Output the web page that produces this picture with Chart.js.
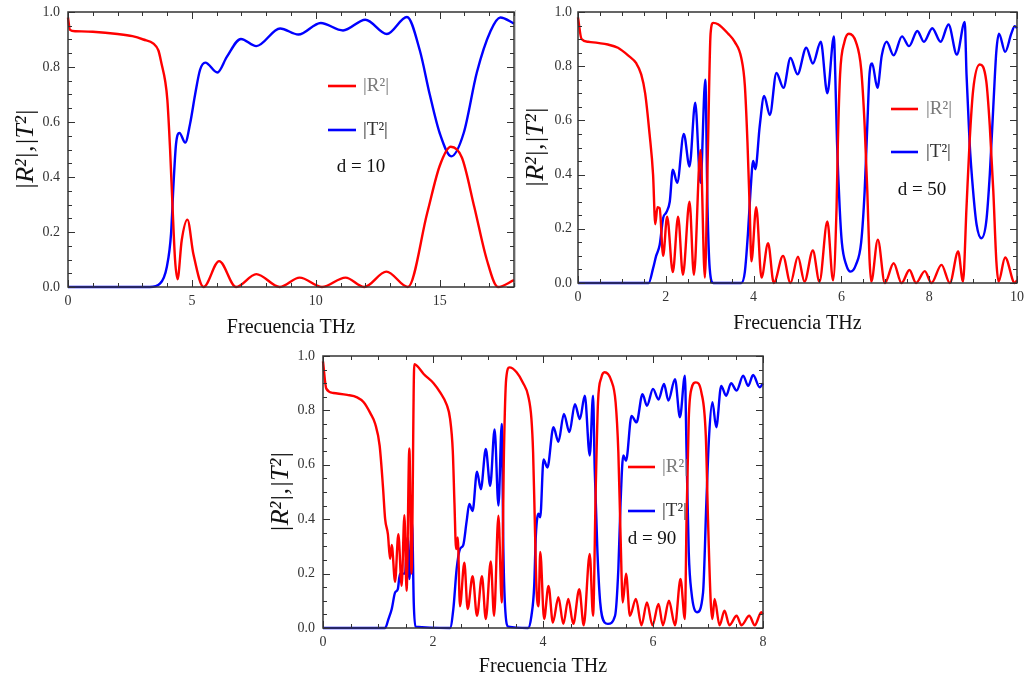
<!DOCTYPE html>
<html><head><meta charset="utf-8">
<script src="https://cdn.jsdelivr.net/npm/chart.js@4.4.0/dist/chart.umd.min.js"></script>
<style>
html,body{margin:0;padding:0;background:#fff;width:1024px;height:685px;overflow:hidden}
canvas{position:absolute}
#sep{position:absolute;left:515px;top:10px;width:1px;height:277px;background:#c8c8c8}
</style></head><body>
<div id="sep"></div>
<canvas id="c1" width="520" height="340" style="left:0;top:0"></canvas>
<canvas id="c2" width="504" height="340" style="left:520px;top:0"></canvas>
<canvas id="c3" width="520" height="345" style="left:255px;top:340px"></canvas>
<script>
// ---------- data ----------
// d = 10
const r1x = [0,0.08,0.3,1,2,2.6,3.04,3.45,3.65,3.78,3.92,4.01,4.12,4.22,4.32,4.42,4.59,4.82,5.06,5.47,6.1,6.78,7.6,8.55,9.35,10.25,11.2,11.95,12.85,13.72,14.5,15.0,15.45,15.9,16.4,16.9,17.35,18];
const r1y = [0.98,0.935,0.93,0.928,0.92,0.912,0.9,0.885,0.86,0.81,0.75,0.68,0.50,0.29,0.10,0.028,0.17,0.245,0.12,0,0.094,0,0.047,0,0.034,0,0.034,0,0.056,0,0.27,0.44,0.51,0.47,0.29,0.1,0,0.025];
const t1x = [0,3.3,3.72,3.99,4.16,4.26,4.36,4.5,4.73,4.93,5.13,5.33,5.54,6.03,6.41,6.98,7.6,8.56,9.3,10.2,11.1,12.0,12.87,13.68,14.2,14.6,15.0,15.47,15.97,16.5,17.05,17.45,18];
const t1y = [0,0,0.013,0.074,0.195,0.377,0.52,0.56,0.525,0.595,0.70,0.79,0.816,0.78,0.837,0.902,0.876,0.94,0.918,0.96,0.933,0.972,0.92,0.982,0.86,0.70,0.56,0.475,0.56,0.78,0.93,0.98,0.958];
// d = 50
const r2x = [0,0.08,0.23,0.68,0.91,1.14,1.33,1.44,1.53,1.63,1.71,1.76,1.81,1.86,1.94,2.03,2.16,2.28,2.39,2.54,2.64,2.79,2.89,2.96,3.02,3.08,3.19,3.42,3.57,3.72,3.8,3.86,3.91,3.95,4.06,4.18,4.33,4.46,4.67,4.84,5.01,5.16,5.35,5.5,5.68,5.81,5.89,5.92,5.97,6.07,6.17,6.33,6.45,6.53,6.59,6.64,6.68,6.83,6.99,7.19,7.37,7.55,7.7,7.9,8.05,8.28,8.47,8.66,8.77,8.85,8.92,9.0,9.15,9.3,9.38,9.46,9.53,9.58,9.73,9.95,10];
const r2y = [0.98,0.90,0.89,0.88,0.868,0.84,0.81,0.77,0.70,0.55,0.40,0.217,0.28,0.276,0.10,0.245,0.04,0.245,0.03,0.30,0.03,0.49,0.02,0.5,0.92,0.96,0.955,0.92,0.89,0.83,0.73,0.52,0.28,0.08,0.28,0.02,0.147,0,0.10,0,0.097,0.005,0.12,0.005,0.227,0.01,0.28,0.52,0.77,0.89,0.92,0.89,0.79,0.58,0.34,0.09,0.005,0.16,0,0.073,0,0.048,0,0.044,0,0.067,0,0.116,0.005,0.28,0.52,0.71,0.806,0.745,0.58,0.34,0.08,0.005,0.094,0,0.01];
const t2x = [0,1.61,1.71,1.78,1.86,1.94,2.01,2.09,2.16,2.26,2.41,2.54,2.67,2.79,2.9,2.95,3.0,3.08,3.72,3.8,3.87,3.93,3.99,4.04,4.14,4.24,4.37,4.52,4.68,4.84,5.0,5.2,5.35,5.53,5.68,5.83,5.86,5.9,5.96,6.01,6.11,6.21,6.33,6.45,6.53,6.59,6.64,6.7,6.82,6.92,7.03,7.19,7.38,7.54,7.73,7.88,8.07,8.26,8.44,8.63,8.81,8.85,8.92,9.0,9.08,9.19,9.3,9.38,9.46,9.53,9.59,9.73,9.87,9.95,10];
const t2y = [0,0,0.054,0.10,0.14,0.24,0.26,0.30,0.418,0.37,0.55,0.43,0.665,0.37,0.75,0.28,0.054,0,0,0.04,0.18,0.34,0.45,0.42,0.58,0.69,0.62,0.775,0.72,0.83,0.77,0.868,0.81,0.89,0.70,0.91,0.77,0.52,0.28,0.15,0.067,0.042,0.067,0.15,0.34,0.58,0.77,0.81,0.72,0.84,0.89,0.84,0.91,0.874,0.93,0.89,0.94,0.89,0.954,0.843,0.963,0.77,0.52,0.34,0.215,0.165,0.227,0.40,0.65,0.856,0.92,0.853,0.92,0.948,0.94];
// d = 90
const r3x = [0,0.06,0.19,0.44,0.62,0.74,0.86,0.95,1.03,1.09,1.13,1.18,1.22,1.25,1.31,1.37,1.43,1.48,1.52,1.57,1.61,1.66,1.71,1.83,2.01,2.13,2.25,2.31,2.36,2.39,2.42,2.45,2.49,2.57,2.63,2.72,2.8,2.89,2.96,3.05,3.11,3.19,3.25,3.29,3.33,3.39,3.52,3.64,3.73,3.79,3.82,3.85,3.88,3.92,3.95,4.02,4.1,4.18,4.28,4.37,4.46,4.55,4.66,4.74,4.85,4.91,4.96,5.0,5.06,5.12,5.24,5.32,5.37,5.41,5.45,5.51,5.58,5.69,5.79,5.89,5.99,6.1,6.18,6.29,6.4,6.5,6.58,6.61,6.65,6.7,6.78,6.88,6.96,7.0,7.05,7.08,7.12,7.21,7.3,7.39,7.52,7.61,7.75,7.85,7.97,8];
const r3y = [0.98,0.88,0.864,0.857,0.848,0.83,0.79,0.75,0.67,0.52,0.40,0.345,0.254,0.305,0.17,0.345,0.155,0.415,0.137,0.66,0.2,0.97,0.964,0.934,0.90,0.866,0.82,0.77,0.65,0.46,0.29,0.333,0.08,0.24,0.07,0.19,0.045,0.19,0.033,0.245,0.045,0.413,0.094,0.646,0.915,0.958,0.94,0.90,0.854,0.768,0.646,0.40,0.155,0.08,0.28,0.033,0.155,0.02,0.113,0.015,0.107,0.015,0.143,0.01,0.272,0.045,0.523,0.83,0.92,0.94,0.91,0.83,0.646,0.34,0.094,0.2,0.045,0.107,0.01,0.094,0.01,0.088,0.01,0.1,0.01,0.18,0.033,0.40,0.768,0.88,0.903,0.866,0.707,0.40,0.094,0.033,0.107,0.01,0.064,0.01,0.045,0.01,0.045,0.01,0.058,0.05];
const t3x = [0,1.13,1.19,1.25,1.31,1.36,1.4,1.45,1.49,1.54,1.57,1.62,1.65,1.68,2.31,2.37,2.43,2.49,2.55,2.61,2.66,2.72,2.8,2.87,2.96,3.04,3.12,3.19,3.25,3.28,3.31,3.37,3.73,3.79,3.84,3.87,3.92,3.95,4.01,4.08,4.19,4.28,4.38,4.48,4.58,4.67,4.76,4.85,4.91,4.94,4.99,5.04,5.12,5.18,5.31,5.37,5.41,5.46,5.51,5.61,5.7,5.81,5.89,6.0,6.1,6.2,6.28,6.4,6.49,6.58,6.61,6.65,6.7,6.8,6.91,6.97,7.02,7.08,7.15,7.24,7.33,7.42,7.52,7.64,7.73,7.82,7.94,8];
const t3y = [0,0,0.033,0.07,0.13,0.143,0.2,0.2,0.2,0.333,0.18,0.39,0.094,0.005,0,0.07,0.217,0.29,0.305,0.39,0.456,0.43,0.575,0.51,0.658,0.523,0.73,0.45,0.75,0.28,0.08,0.005,0,0.045,0.155,0.34,0.42,0.407,0.62,0.59,0.738,0.685,0.787,0.72,0.823,0.768,0.854,0.634,0.854,0.585,0.278,0.094,0.02,0.015,0.045,0.217,0.46,0.634,0.615,0.78,0.756,0.86,0.817,0.879,0.84,0.897,0.836,0.915,0.775,0.928,0.646,0.278,0.13,0.058,0.13,0.46,0.707,0.83,0.738,0.89,0.854,0.9,0.873,0.928,0.89,0.93,0.885,0.9];

// tick labels
const yTicks = [0,0.2,0.4,0.6,0.8,1.0];
const xTicks1 = [0,5,10,15];
const xTicks2 = [0,2,4,6,8,10];
const xTicks3 = [0,2,4,6,8];
const seriesNames = ['|R\u00B2|','|T\u00B2|'];
const dLabels = ['d = 10','d = 50','d = 90'];
const xTitle = 'Frecuencia THz';
const yTitle = '|R\u00B2|,|T\u00B2|';

// ---------- plugins ----------
const framePlugin = {
  id: 'frame',
  afterDatasetsDraw(chart, args, o) {
    const {ctx, chartArea: a, scales: {x, y}} = chart;
    ctx.save();
    ctx.strokeStyle = '#333';
    ctx.lineWidth = 1;
    const seg = (x1,y1,x2,y2)=>{ctx.beginPath();ctx.moveTo(x1,y1);ctx.lineTo(x2,y2);ctx.stroke();};
    const nx = Math.round((x.max - x.min)/o.xMinor);
    for (let i = 0; i <= nx; i++) {
      const v = x.min + i*o.xMinor;
      const r = v/o.xMajor, major = Math.abs(r - Math.round(r)) < 1e-6;
      const L = major ? 7 : 4;
      const px = Math.round(x.getPixelForValue(v)) + 0.5;
      seg(px, a.bottom, px, a.bottom - L);
      seg(px, a.top, px, a.top + L);
    }
    const ny = Math.round((y.max - y.min)/0.05);
    for (let i = 0; i <= ny; i++) {
      const v = y.min + i*0.05;
      const major = i % 4 === 0;
      const L = major ? 7 : 4;
      const py = Math.round(y.getPixelForValue(v)) + 0.5;
      seg(a.left, py, a.left + L, py);
      seg(a.right, py, a.right - L, py);
    }
    ctx.lineWidth = 1.5;
    ctx.strokeRect(a.left, a.top, a.right - a.left, a.bottom - a.top);
    ctx.restore();
  }
};
const legendPlugin = {
  id: 'inlegend',
  afterDraw(chart, args, o) {
    const ctx = chart.ctx;
    ctx.save();
    const ds = chart.data.datasets;
    ds.forEach((d, i) => {
      const yy = o.ys[i];
      ctx.strokeStyle = d.borderColor;
      ctx.lineWidth = 2.6;
      ctx.beginPath(); ctx.moveTo(o.lx, yy); ctx.lineTo(o.lx + o.len, yy); ctx.stroke();
      ctx.fillStyle = o.textColors[i];
      ctx.font = '19px "Liberation Serif", serif';
      ctx.textAlign = 'left'; ctx.textBaseline = 'middle';
      ctx.fillText(d.label, o.tx, yy);
    });
    ctx.fillStyle = '#111';
    ctx.font = '19px "Liberation Serif", serif';
    ctx.textAlign = 'center'; ctx.textBaseline = 'middle';
    ctx.fillText(o.dText, o.dx, o.dy);
    ctx.restore();
  }
};

function pts(xs, ys) { return xs.map((v, i) => ({x: v, y: ys[i]})); }

function makeChart(id, rx, ry, tx, ty, xmax, xTicks, xMinor, xMajor, pad, legend) {
  const tickFont = {family: '"Liberation Serif", serif', size: 14};
  new Chart(document.getElementById(id), {
    type: 'line',
    data: {
      datasets: [
        {label: seriesNames[0], data: pts(rx, ry), borderColor: '#ff0000'},
        {label: seriesNames[1], data: pts(tx, ty), borderColor: '#0000ff'}
      ]
    },
    options: {
      responsive: false,
      animation: false,
      devicePixelRatio: 1,
      layout: {padding: pad.p},
      elements: {
        point: {radius: 0},
        line: {borderWidth: 2.4, tension: 0.4, cubicInterpolationMode: 'monotone'}
      },
      datasets: {line: {clip: 3}},
      plugins: {
        legend: {display: false},
        tooltip: {enabled: false},
        frame: {xMinor: xMinor, xMajor: xMajor},
        inlegend: legend
      },
      scales: {
        x: {
          type: 'linear', min: 0, max: xmax,
          grid: {display: false, drawTicks: false},
          border: {display: false},
          afterBuildTicks: s => { s.ticks = xTicks.map(v => ({value: v})); },
          afterFit: s => { s.height = pad.xh; s.paddingLeft = 0; s.paddingRight = 0; },
          ticks: {font: tickFont, color: '#333', padding: 6, maxRotation: 0, autoSkip: false,
                  callback: v => String(v)},
          title: {display: true, text: xTitle, padding: 0,
                  font: {family: '"Liberation Serif", serif', size: 20}, color: '#111'}
        },
        y: {
          type: 'linear', min: 0, max: 1,
          grid: {display: false, drawTicks: false},
          border: {display: false},
          afterBuildTicks: s => { s.ticks = yTicks.map(v => ({value: v})); },
          afterFit: s => { s.width = pad.yw; s.paddingTop = 0; s.paddingBottom = 0; },
          ticks: {font: tickFont, color: '#333', padding: pad.yp, autoSkip: false,
                  callback: v => Number(v).toFixed(1)},
          title: {display: true, text: yTitle, padding: 0,
                  font: {family: '"Liberation Serif", serif', size: 26, style: 'italic'}, color: '#111'}
        }
      }
    },
    plugins: [framePlugin, legendPlugin]
  });
}

makeChart('c1', r1x, r1y, t1x, t1y, 18, xTicks1, 1, 5,
  {p: {left: 11, top: 12, right: 6, bottom: 0}, xh: 53, yp: 8, yw: 57},
  {lx: 328, len: 28, tx: 363, ys: [86, 130], textColors: ['#7a7a7a', '#333'], dText: dLabels[0], dx: 361, dy: 167});
makeChart('c2', r2x, r2y, t2x, t2y, 10, xTicks2, 0.5, 2,
  {p: {left: 1, top: 12, right: 7, bottom: 4}, xh: 53, yp: 6, yw: 57},
  {lx: 371, len: 27, tx: 406, ys: [109, 152], textColors: ['#7a7a7a', '#333'], dText: dLabels[1], dx: 402, dy: 190});
makeChart('c3', r3x, r3y, t3x, t3y, 8, xTicks3, 0.5, 2,
  {p: {left: 11, top: 16, right: 12, bottom: 6}, xh: 51, yp: 8, yw: 57},
  {lx: 373, len: 27, tx: 407, ys: [127, 171], textColors: ['#7a7a7a', '#333'], dText: dLabels[2], dx: 397, dy: 199});
</script>
</body></html>
